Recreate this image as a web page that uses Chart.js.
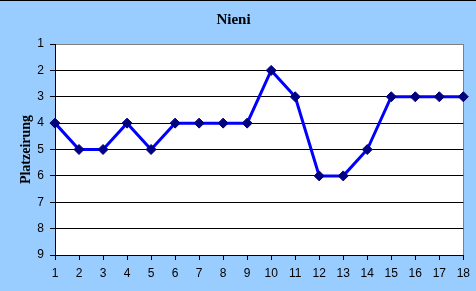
<!DOCTYPE html>
<html>
<head>
<meta charset="utf-8">
<script src="https://cdn.jsdelivr.net/npm/chart.js@4/dist/chart.umd.min.js"></script>
<style>
html,body{margin:0;padding:0;background:#99CCFF;}
#wrap{width:476px;height:291px;position:relative;}
</style>
</head>
<body>
<div id="wrap"><canvas id="c" width="476" height="291"></canvas></div>
<script>
const chartTitle = "Nieni";
const yAxisTitle = "Platzeirung";
const categories = ["1","2","3","4","5","6","7","8","9","10","11","12","13","14","15","16","17","18"];
const placements = [4,5,5,4,5,4,4,4,4,2,3,6,6,5,3,3,3,3];
const yMin = 1, yMax = 9;

const bgPlugin = {
  id: 'bg',
  beforeDraw(chart) {
    const {ctx, chartArea: a} = chart;
    ctx.save();
    ctx.fillStyle = '#99CCFF';
    ctx.fillRect(0, 0, chart.width, chart.height);
    ctx.fillStyle = '#FFFFFF';
    ctx.fillRect(a.left, a.top, a.right - a.left, a.bottom - a.top);
    ctx.restore();
  },
  afterDraw(chart) {
    const ctx = chart.ctx;
    ctx.save();
    ctx.strokeStyle = '#000000';
    ctx.lineWidth = 1;
    ctx.beginPath();
    ctx.moveTo(0, 0.5);
    ctx.lineTo(chart.width, 0.5);
    ctx.stroke();
    ctx.restore();
  }
};

new Chart(document.getElementById('c'), {
  type: 'line',
  data: {
    labels: categories,
    datasets: [{
      data: placements,
      borderColor: '#0000FF',
      borderWidth: 3,
      tension: 0,
      pointStyle: 'rectRot',
      pointRadius: 5,
      pointBackgroundColor: '#000080',
      pointBorderColor: '#000080',
      pointBorderWidth: 1
    }]
  },
  options: {
    responsive: false,
    animation: false,
    devicePixelRatio: 1,
    layout: { padding: { left: 0, right: 9, top: 0, bottom: 0 } },
    plugins: {
      legend: { display: false },
      tooltip: { enabled: false },
      title: {
        display: true,
        text: chartTitle,
        color: '#000000',
        font: { family: 'Liberation Serif', size: 15, weight: 'bold' },
        padding: { top: 11, bottom: 15 }
      }
    },
    scales: {
      x: {
        offset: false,
        grid: {
          drawOnChartArea: true,
          color: (c) => c.index === categories.length - 1 ? '#808080' : 'rgba(0,0,0,0)',
          tickColor: '#000000',
          tickLength: 5,
          lineWidth: 1
        },
        border: { color: '#000000', width: 1 },
        ticks: {
          color: '#000000',
          font: { family: 'Liberation Sans', size: 12 },
          padding: 6,
          maxRotation: 0,
          autoSkip: false
        },
        afterFit(s) { s.height = 36; }
      },
      y: {
        reverse: true,
        min: yMin,
        max: yMax,
        grid: {
          color: (c) => c.tick && c.tick.value === yMin ? '#808080' : '#000000',
          tickColor: '#000000',
          tickLength: 5,
          lineWidth: 1
        },
        border: { color: '#000000', width: 1 },
        ticks: {
          stepSize: 1,
          color: '#000000',
          font: { family: 'Liberation Sans', size: 12 },
          padding: 6
        },
        title: {
          display: true,
          text: yAxisTitle,
          color: '#000000',
          font: { family: 'Liberation Serif', size: 14, weight: 'bold' },
          padding: { top: 18, bottom: 0 }
        },
        afterFit(s) { s.width = 55; }
      }
    }
  },
  plugins: [bgPlugin]
});
</script>
</body>
</html>
